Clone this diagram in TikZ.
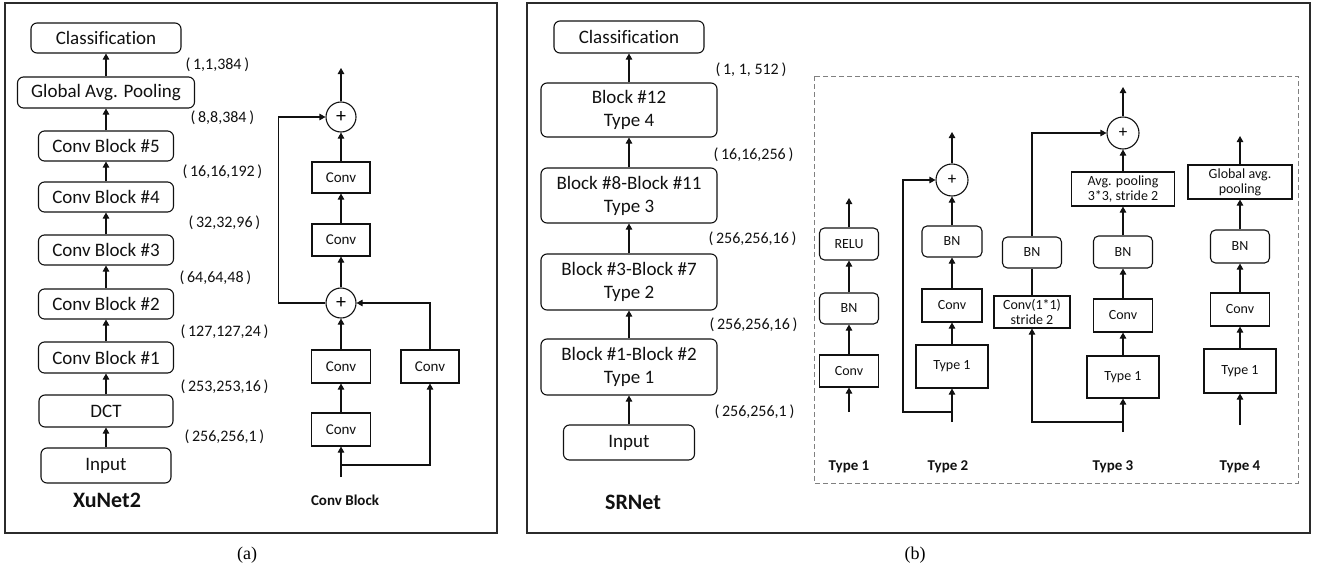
\documentclass[tikz,border=0pt]{standalone}
\usepackage{fontspec}
\setmainfont{Carlito}[Ligatures=NoCommon]
\newfontfamily\capfont{Liberation Serif}
\usetikzlibrary{arrows.meta,positioning,shapes.geometric}
\definecolor{nnink}{HTML}{111111}
\definecolor{nnframe}{HTML}{2B2B2B}
\definecolor{nndash}{HTML}{808080}
\tikzset{
  bigbox/.style={draw=nnink,line width=1.1pt,rounded corners=6pt,inner sep=0pt,
                 align=center,font=\fontsize{19}{23}\selectfont,text=nnink},
  cblk/.style={draw=nnink,line width=1.1pt,inner sep=0pt,align=center,
               font=\fontsize{15}{17}\selectfont,text=nnink},
  tblk/.style={draw=nnink,line width=1.1pt,inner sep=0pt,align=center,
               font=\fontsize{14}{15}\selectfont,text=nnink},
  tround/.style={tblk,rounded corners=5pt},
  addop/.style={circle,draw=nnink,line width=1.1pt,inner sep=0pt,
                minimum size=30pt,font=\fontsize{20}{20}\selectfont},
  arr/.style={-{Triangle[length=6pt,width=6.5pt]},line width=1.1pt,draw=nnink},
  line/.style={line width=1.1pt,draw=nnink},
  dims/.style={anchor=west,font=\fontsize{16}{18}\selectfont,text=nnink},
  nettitle/.style={font=\bfseries\fontsize{22}{24}\selectfont,text=nnink},
  typelabel/.style={font=\bfseries\fontsize{15}{17}\selectfont,text=nnink},
  panel/.style={draw=nnframe,line width=1.5pt},
}

\begin{document}
\begin{tikzpicture}[x=1pt,y=-1pt]
  \useasboundingbox (0,0) rectangle (1325,570);

  % ---------- panel frames ----------
  \draw[panel] (5,3) rectangle (497,533);
  \draw[panel] (527,3) rectangle (1310,533);
  \draw[nndash,line width=1pt,dash pattern=on 5pt off 3pt] (814,76) rectangle (1298,483);

  % ---------- XuNet2 stack ----------
  \node[bigbox,minimum width=150,minimum height=30] (cls) at (106,38) {Classification};
  \node[bigbox,minimum width=177,minimum height=31] (gap) at (106,92.5) {Global Avg. Pooling};
  \node[bigbox,minimum width=135,minimum height=30] (cb5) at (106,146) {Conv Block \#5};
  \node[bigbox,minimum width=135,minimum height=30] (cb4) at (106,197) {Conv Block \#4};
  \node[bigbox,minimum width=135,minimum height=30] (cb3) at (106,250) {Conv Block \#3};
  \node[bigbox,minimum width=135,minimum height=30] (cb2) at (106,304) {Conv Block \#2};
  \node[bigbox,minimum width=135,minimum height=31] (cb1) at (106,357.5) {Conv Block \#1};
  \node[bigbox,minimum width=134,minimum height=32] (dct) at (106,411) {DCT};
  \node[bigbox,minimum width=130,minimum height=35] (inp) at (106,465.5) {Input};
  \foreach \a/\b in {inp/dct,dct/cb1,cb1/cb2,cb2/cb3,cb3/cb4,cb4/cb5,cb5/gap,gap/cls}
    {\draw[arr] (\a) -- (\b);}

  \node[dims] (xd1) at (182,65) {(\,1,1,384\,)};
  \node[dims] (xd2) at (187,118) {(\,8,8,384\,)};
  \node[dims] (xd3) at (179,172) {(\,16,16,192\,)};
  \node[dims] (xd4) at (185,223) {(\,32,32,96\,)};
  \node[dims] (xd5) at (176,278) {(\,64,64,48\,)};
  \node[dims] (xd6) at (177,332) {(\,127,127,24\,)};
  \node[dims] (xd7) at (177,387) {(\,253,253,16\,)};
  \node[dims] (xd8) at (181,437) {(\,256,256,1\,)};
  \node[nettitle] (xunet) at (107,500) {XuNet2};

  % ---------- conv block detail ----------
  \node[addop] (cadd2) at (341,117) {+};
  \node[cblk,minimum width=58,minimum height=31] (cva) at (341,177.5) {Conv};
  \node[cblk,minimum width=58,minimum height=32] (cvb) at (341,240) {Conv};
  \node[addop] (cadd1) at (341,303) {+};
  \node[cblk,minimum width=59,minimum height=33] (cvc) at (341,366.5) {Conv};
  \node[cblk,minimum width=58,minimum height=33] (cvr) at (430,366.5) {Conv};
  \node[cblk,minimum width=59,minimum height=33] (cvd) at (341,429.5) {Conv};
  \coordinate (cbin) at (341,477);
  \coordinate (cbsplit) at (341,465);
  \coordinate (cbout) at (341,68);

  \draw[arr] (cbin) -- (cvd);
  \draw[arr] (cbsplit) -| (cvr.south);
  \draw[arr] (cvd) -- (cvc);
  \draw[arr] (cvc) -- (cadd1);
  \draw[arr] (cvr.north) |- (cadd1.east);
  \draw[arr] (cadd1) -- (cvb);
  \draw[arr] (cvb) -- (cva);
  \draw[arr] (cva) -- (cadd2);
  \draw[arr] (cadd1.west) -- ++(-47,0) |- (cadd2.west);
  \draw[arr] (cadd2) -- (cbout);
  \node[typelabel] (cbname) at (345,500) {Conv Block};

  % ---------- SRNet stack ----------
  \node[bigbox,minimum width=150,minimum height=32] (scls) at (629,37) {Classification};
  \node[bigbox,minimum width=176,minimum height=54] (sb12) at (629,110) {Block \#12\\Type 4};
  \node[bigbox,minimum width=176,minimum height=55] (sb8) at (629,195.5) {Block \#8-Block \#11\\Type 3};
  \node[bigbox,minimum width=176,minimum height=56] (sb3) at (629,282) {Block \#3-Block \#7\\Type 2};
  \node[bigbox,minimum width=176,minimum height=56] (sb1) at (629,367) {Block \#1-Block \#2\\Type 1};
  \node[bigbox,minimum width=131,minimum height=35] (sinp) at (629,442.5) {Input};
  \foreach \a/\b in {sinp/sb1,sb1/sb3,sb3/sb8,sb8/sb12,sb12/scls}
    {\draw[arr] (\a) -- (\b);}

  \node[dims] (sd1) at (712,70) {(\,1, 1, 512\,)};
  \node[dims] (sd2) at (710,155) {(\,16,16,256\,)};
  \node[dims] (sd3) at (705,239) {(\,256,256,16\,)};
  \node[dims] (sd4) at (706,325) {(\,256,256,16\,)};
  \node[dims] (sd5) at (711,412) {(\,256,256,1\,)};
  \node[nettitle] (srnet) at (633,502) {SRNet};

  % ---------- type 1 ----------
  \node[tround,minimum width=59,minimum height=32] (t1relu) at (849,244) {RELU};
  \node[tround,minimum width=59,minimum height=31] (t1bn) at (849,308.5) {BN};
  \node[tblk,minimum width=59,minimum height=32] (t1conv) at (849,371) {Conv};
  \coordinate (t1in) at (849,412);
  \coordinate (t1out) at (849,198);
  \draw[arr] (t1in) -- (t1conv);
  \draw[arr] (t1conv) -- (t1bn);
  \draw[arr] (t1bn) -- (t1relu);
  \draw[arr] (t1relu) -- (t1out);

  % ---------- type 2 ----------
  \node[addop,minimum size=32,font=\fontsize{17}{17}\selectfont] (t2add) at (952,180) {+};
  \node[tround,minimum width=60,minimum height=31] (t2bn) at (952,241.5) {BN};
  \node[tblk,minimum width=60,minimum height=33] (t2conv) at (952,305.5) {Conv};
  \node[tblk,minimum width=72,minimum height=43] (t2base) at (952,366.5) {Type 1};
  \coordinate (t2in) at (952,422);
  \coordinate (t2split) at (952,412);
  \coordinate (t2out) at (952,132);
  \draw[arr] (t2in) -- (t2base);
  \draw[arr] (t2base) -- (t2conv);
  \draw[arr] (t2conv) -- (t2bn);
  \draw[arr] (t2bn) -- (t2add);
  \draw[arr] (t2split) -- ++(-49,0) |- (t2add.west);
  \draw[arr] (t2add) -- (t2out);

  % ---------- type 3 ----------
  \node[addop,minimum size=32,font=\fontsize{17}{17}\selectfont] (t3add) at (1123,133) {+};
  \node[tblk,minimum width=103,minimum height=34] (t3pool) at (1123,189) {Avg. pooling\\3*3, stride 2};
  \node[tround,minimum width=59,minimum height=32] (t3bn) at (1123,252) {BN};
  \node[tblk,minimum width=59,minimum height=33] (t3conv) at (1123,315.5) {Conv};
  \node[tblk,minimum width=72,minimum height=42] (t3base) at (1123,377) {Type 1};
  \node[tblk,minimum width=76,minimum height=32] (t3short) at (1032,312) {Conv(1*1)\\stride 2};
  \node[tround,minimum width=59,minimum height=31] (t3sbn) at (1032,252.5) {BN};
  \coordinate (t3in) at (1123,432);
  \coordinate (t3split) at (1123,422);
  \coordinate (t3out) at (1123,87);
  \draw[arr] (t3in) -- (t3base);
  \draw[arr] (t3base) -- (t3conv);
  \draw[arr] (t3conv) -- (t3bn);
  \draw[arr] (t3bn) -- (t3pool);
  \draw[arr] (t3pool) -- (t3add);
  \draw[arr] (t3split) -| (t3short.south);
  \draw[line] (t3short) -- (t3sbn);
  \draw[arr] (t3sbn.north) |- (t3add.west);
  \draw[arr] (t3add) -- (t3out);

  % ---------- type 4 ----------
  \node[tblk,minimum width=104,minimum height=34] (t4pool) at (1240,182) {Global avg.\\pooling};
  \node[tround,minimum width=59,minimum height=33] (t4bn) at (1240,246.5) {BN};
  \node[tblk,minimum width=59,minimum height=33] (t4conv) at (1240,309.5) {Conv};
  \node[tblk,minimum width=72,minimum height=44] (t4base) at (1240,371) {Type 1};
  \coordinate (t4in) at (1240,425);
  \coordinate (t4out) at (1240,136);
  \draw[arr] (t4in) -- (t4base);
  \draw[arr] (t4base) -- (t4conv);
  \draw[arr] (t4conv) -- (t4bn);
  \draw[arr] (t4bn) -- (t4pool);
  \draw[arr] (t4pool) -- (t4out);

  % ---------- type names ----------
  \node[typelabel] (n1) at (849,467) {Type 1};
  \node[typelabel] (n2) at (948,467) {Type 2};
  \node[typelabel] (n3) at (1113,467) {Type 3};
  \node[typelabel] (n4) at (1240,467) {Type 4};

  % ---------- captions ----------
  \node[font=\capfont\fontsize{18}{20}\selectfont] (capa) at (247,555) {(a)};
  \node[font=\capfont\fontsize{18}{20}\selectfont] (capb) at (915,555) {(b)};
\end{tikzpicture}
\end{document}
